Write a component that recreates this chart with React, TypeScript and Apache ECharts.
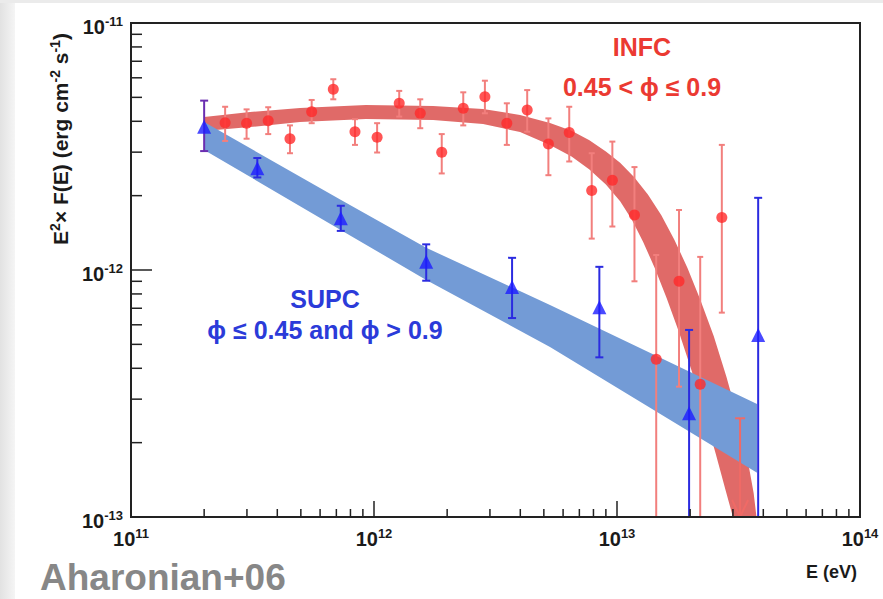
import React, { useEffect, useRef } from "react";
import * as echarts from "echarts";

const FONT = "Liberation Sans, Arial, Helvetica, sans-serif";

// Axis ranges
const X_MIN = 1e11;
const X_MAX = 1e14;
const Y_MIN = 1e-13;
const Y_MAX = 1e-11;

// INFC (red) flux points with error bars
const infcE = [2.44e11, 2.99e11, 3.67e11, 4.51e11, 5.54e11, 6.8e11, 8.35e11, 1.03e12, 1.27e12, 1.55e12, 1.9e12, 2.33e12, 2.86e12, 3.52e12, 4.27e12, 5.22e12, 6.36e12, 7.87e12, 9.57e12, 1.18e13, 1.45e13, 1.8e13, 2.2e13, 2.7e13];
const infcF = [3.95e-12, 3.93e-12, 4.02e-12, 3.4e-12, 4.37e-12, 5.39e-12, 3.63e-12, 3.45e-12, 4.73e-12, 4.31e-12, 3.0e-12, 4.52e-12, 5.03e-12, 3.93e-12, 4.44e-12, 3.24e-12, 3.6e-12, 2.1e-12, 2.31e-12, 1.67e-12, 0.435e-12, 0.9e-12, 0.345e-12, 1.63e-12];
const infcHi = [4.58e-12, 4.47e-12, 4.56e-12, 3.85e-12, 4.88e-12, 5.92e-12, 4.08e-12, 3.93e-12, 5.31e-12, 4.91e-12, 3.55e-12, 5.24e-12, 5.84e-12, 4.73e-12, 5.35e-12, 4.11e-12, 4.58e-12, 2.97e-12, 3.31e-12, 2.61e-12, 1.15e-12, 1.75e-12, 1.13e-12, 3.21e-12];
const infcLo = [3.33e-12, 3.4e-12, 3.55e-12, 2.97e-12, 3.93e-12, 4.91e-12, 3.21e-12, 2.99e-12, 4.18e-12, 3.75e-12, 2.46e-12, 3.85e-12, 4.31e-12, 3.21e-12, 3.63e-12, 2.42e-12, 2.75e-12, 1.34e-12, 1.5e-12, 0.9e-12, 0.05e-12, 0.337e-12, 0.05e-12, 0.672e-12];
// INFC upper limit
const infcLimitE = [3.21e13];
const infcLimitF = [0.251e-12];

// SUPC (blue) flux points with error bars
const supcE = [2.0e11, 3.31e11, 7.3e11, 1.64e12, 3.7e12, 8.46e12, 1.98e13, 3.81e13];
const supcF = [3.8e-12, 2.58e-12, 1.62e-12, 1.08e-12, 0.854e-12, 0.706e-12, 0.263e-12, 0.546e-12];
const supcHi = [4.85e-12, 2.84e-12, 1.82e-12, 1.27e-12, 1.12e-12, 1.03e-12, 0.572e-12, 1.96e-12];
const supcLo = [3.03e-12, 2.37e-12, 1.44e-12, 0.905e-12, 0.639e-12, 0.443e-12, 0.05e-12, 0.05e-12];

// INFC fit band edges
const infcBandUpperE = [2.0e11, 3.09e11, 4.96e11, 9.27e11, 1.75e12, 2.81e12, 3.99e12, 5.3e12, 6.5e12, 7.7e12, 9.0e12, 1.03e13, 1.175e13, 1.34e13, 1.52e13, 1.72e13, 1.95e13, 2.2e13, 2.5e13, 2.82e13, 3.15e13, 3.45e13, 3.65e13, 3.75e13];
const infcBandUpperF = [4.16e-12, 4.36e-12, 4.53e-12, 4.66e-12, 4.61e-12, 4.49e-12, 4.24e-12, 3.94e-12, 3.66e-12, 3.35e-12, 3.02e-12, 2.72e-12, 2.38e-12, 2.02e-12, 1.67e-12, 1.33e-12, 1.02e-12, 0.76e-12, 0.54e-12, 0.37e-12, 0.25e-12, 0.17e-12, 0.125e-12, 0.1e-12];
const infcBandLowerE = [2.0e11, 3.09e11, 4.96e11, 9.27e11, 1.75e12, 2.81e12, 3.99e12, 5.3e12, 6.5e12, 7.7e12, 9.0e12, 1.03e13, 1.15e13, 1.28e13, 1.43e13, 1.6e13, 1.8e13, 2.03e13, 2.28e13, 2.55e13, 2.8e13, 3.0e13];
const infcBandLowerF = [3.65e-12, 3.79e-12, 3.97e-12, 4.09e-12, 4.05e-12, 3.9e-12, 3.62e-12, 3.21e-12, 2.88e-12, 2.55e-12, 2.22e-12, 1.9e-12, 1.6e-12, 1.3e-12, 1.02e-12, 0.77e-12, 0.56e-12, 0.39e-12, 0.265e-12, 0.18e-12, 0.128e-12, 0.1e-12];

// SUPC fit band edges
const supcBandE = [2.0e11, 7.32e11, 1.64e12, 5.3e12, 3.77e13];
const supcBandUpperF = [3.97e-12, 1.92e-12, 1.23e-12, 0.722e-12, 0.287e-12];
const supcBandLowerF = [3.06e-12, 1.45e-12, 0.911e-12, 0.488e-12, 0.151e-12];

// Minor tick positions
const xMinorTicks = [2e11, 3e11, 4e11, 5e11, 6e11, 7e11, 8e11, 9e11, 2e12, 3e12, 4e12, 5e12, 6e12, 7e12, 8e12, 9e12, 2e13, 3e13, 4e13, 5e13, 6e13, 7e13, 8e13, 9e13];
const yMinorTicks = [2e-13, 3e-13, 4e-13, 5e-13, 6e-13, 7e-13, 8e-13, 9e-13, 2e-12, 3e-12, 4e-12, 5e-12, 6e-12, 7e-12, 8e-12, 9e-12];

const labelRich = {
  b: { fontSize: 20, fontWeight: "bold", fontFamily: FONT, color: "#1a1a1a", lineHeight: 24 },
  s: { fontSize: 13, fontWeight: "bold", fontFamily: FONT, color: "#1a1a1a", lineHeight: 14, verticalAlign: "top" },
};

const expFormatter = (v: number) => `{b|10}{s|${Math.round(Math.log10(v))}}`;

function errorBarSeries(E: number[], lo: number[], hi: number[], color: string, capHalf: number, z: number, firstColor?: string) {
  return {
    type: "custom",
    silent: true,
    z,
    data: E.map((e, i) => [e, lo[i], hi[i]]),
    encode: { x: 0, y: [1, 2] },
    renderItem: (params: any, api: any) => {
      const e = api.value(0);
      const l = api.value(1);
      const h = api.value(2);
      const c = params.dataIndex === 0 && firstColor ? firstColor : color;
      const pTop = api.coord([e, Math.min(h, Y_MAX)]);
      const pBot = api.coord([e, Math.max(l, Y_MIN)]);
      const st = { stroke: c, lineWidth: 2 };
      const children: any[] = [
        { type: "line", shape: { x1: pTop[0], y1: pTop[1], x2: pBot[0], y2: pBot[1] }, style: st },
        { type: "line", shape: { x1: pTop[0] - capHalf, y1: pTop[1], x2: pTop[0] + capHalf, y2: pTop[1] }, style: st },
      ];
      if (l >= Y_MIN) {
        children.push({ type: "line", shape: { x1: pBot[0] - capHalf, y1: pBot[1], x2: pBot[0] + capHalf, y2: pBot[1] }, style: st });
      }
      return { type: "group", children };
    },
  };
}

function bandSeries(upE: number[], upF: number[], loE: number[], loF: number[], color: string, z: number) {
  return {
    type: "custom",
    silent: true,
    z,
    data: [[upE[0], upF[0]]],
    encode: { x: 0, y: 1 },
    renderItem: (params: any, api: any) => {
      const pts: number[][] = [];
      for (let i = 0; i < upE.length; i++) pts.push(api.coord([upE[i], upF[i]]));
      for (let i = loE.length - 1; i >= 0; i--) pts.push(api.coord([loE[i], loF[i]]));
      return { type: "polygon", shape: { points: pts }, style: { fill: color } };
    },
  };
}

const centered = { textAlign: "center", textVerticalAlign: "middle", align: "center", verticalAlign: "middle" };

function buildOption() {
  return {
    animation: false,
    backgroundColor: "#ffffff",
    textStyle: { fontFamily: FONT },
    grid: { left: 131, right: 23, top: 23, bottom: 82, show: true, borderColor: "#222", borderWidth: 2, backgroundColor: "rgba(0,0,0,0)" },
    xAxis: {
      type: "log",
      logBase: 10,
      min: X_MIN,
      max: X_MAX,
      z: 10,
      axisLine: { show: true, onZero: false, lineStyle: { color: "#222", width: 2 } },
      axisTick: { show: true, inside: true, length: 16, lineStyle: { color: "#222", width: 1.5 } },
      minorTick: { show: false },
      splitLine: { show: false },
      axisLabel: { show: true, margin: 10, fontSize: 20, fontWeight: "bold", color: "#1a1a1a", fontFamily: FONT, showMinLabel: true, showMaxLabel: true, formatter: expFormatter, rich: labelRich },
    },
    yAxis: {
      type: "log",
      logBase: 10,
      min: Y_MIN,
      max: Y_MAX,
      z: 10,
      axisLine: { show: true, onZero: false, lineStyle: { color: "#222", width: 2 } },
      axisTick: { show: true, inside: true, length: 21, lineStyle: { color: "#222", width: 1.5 } },
      minorTick: { show: false },
      splitLine: { show: false },
      axisLabel: { show: true, margin: 8, padding: [8, 0, 0, 0], fontSize: 20, fontWeight: "bold", color: "#1a1a1a", fontFamily: FONT, showMinLabel: true, showMaxLabel: true, formatter: expFormatter, rich: labelRich },
    },
    graphic: [
      {
        type: "rect",
        z: -10,
        shape: { x: 0, y: 0, width: 15, height: 599 },
        style: { fill: new echarts.graphic.LinearGradient(0, 0, 1, 0, [{ offset: 0, color: "#e2e2e2" }, { offset: 1, color: "#f5f5f5" }]) },
      },
      { type: "rect", z: -10, shape: { x: 0, y: 0, width: 883, height: 3 }, style: { fill: "#ebebeb" } },
      { type: "text", x: 642, y: 47, style: { text: "INFC", fill: "#eb3a32", font: `bold 25px ${FONT}`, ...centered } },
      { type: "text", x: 642, y: 87, style: { text: "0.45 < ϕ ≤ 0.9", fill: "#eb3a32", font: `bold 25px ${FONT}`, ...centered } },
      { type: "text", x: 325, y: 299, style: { text: "SUPC", fill: "#2b3bd9", font: `bold 25px ${FONT}`, ...centered } },
      { type: "text", x: 325, y: 330, style: { text: "ϕ ≤ 0.45 and ϕ > 0.9", fill: "#2b3bd9", font: `bold 25px ${FONT}`, ...centered } },
      {
        type: "text",
        x: 857,
        y: 572,
        style: { text: "E (eV)", fill: "#1a1a1a", font: `bold 18px ${FONT}`, textAlign: "right", textVerticalAlign: "middle", align: "right", verticalAlign: "middle" },
      },
      {
        type: "text",
        x: 40,
        y: 577,
        style: { text: "Aharonian+06", fill: "#878787", font: `bold 37px ${FONT}`, textAlign: "left", textVerticalAlign: "middle", align: "left", verticalAlign: "middle" },
      },
      {
        type: "text",
        x: 60,
        y: 139,
        rotation: Math.PI / 2,
        style: {
          text: "{n|E}{s|2}{n|× F(E) (erg cm}{s|-2}{n| s}{s|-1}{n|)}",
          font: `bold 21px ${FONT}`,
          fill: "#1a1a1a",
          ...centered,
          rich: {
            n: { font: `bold 21px ${FONT}`, fontSize: 21, fontWeight: "bold", fontFamily: FONT, fill: "#1a1a1a", lineHeight: 24 },
            s: { font: `bold 14px ${FONT}`, fontSize: 14, fontWeight: "bold", fontFamily: FONT, fill: "#1a1a1a", lineHeight: 14, verticalAlign: "top" },
          },
        },
      },
    ],
    series: [
      bandSeries(infcBandUpperE, infcBandUpperF, infcBandLowerE, infcBandLowerF, "#e06a68", 1),
      bandSeries(supcBandE, supcBandUpperF, supcBandE, supcBandLowerF, "#739bd6", 2),
      errorBarSeries(infcE, infcLo, infcHi, "#f27f7d", 3, 3),
      {
        type: "custom",
        silent: true,
        z: 3,
        data: infcLimitE.map((e, i) => [e, infcLimitF[i]]),
        encode: { x: 0, y: 1 },
        renderItem: (params: any, api: any) => {
          const p = api.coord([api.value(0), api.value(1)]);
          const b = api.coord([api.value(0), Y_MIN]);
          const st = { stroke: "#f06a66", lineWidth: 2 };
          return {
            type: "group",
            children: [
              { type: "line", shape: { x1: p[0], y1: p[1], x2: b[0], y2: b[1] }, style: st },
              { type: "line", shape: { x1: p[0] - 5, y1: p[1], x2: p[0] + 5, y2: p[1] }, style: st },
              { type: "line", shape: { x1: b[0] - 8, y1: b[1] - 17, x2: b[0], y2: b[1] }, style: st },
              { type: "line", shape: { x1: b[0] + 8, y1: b[1] - 17, x2: b[0], y2: b[1] }, style: st },
            ],
          };
        },
      },
      errorBarSeries(supcE, supcLo, supcHi, "#2b2be0", 4, 4, "#6a2db0"),
      {
        type: "scatter",
        silent: true,
        z: 5,
        symbol: "circle",
        symbolSize: 11,
        itemStyle: { color: "#ff2b2b" },
        data: infcE.map((e, i) => [e, infcF[i]]),
      },
      {
        type: "scatter",
        silent: true,
        z: 6,
        symbol: "triangle",
        symbolSize: 14,
        itemStyle: { color: "#1d1dff" },
        data: supcE.map((e, i) => [e, supcF[i]]),
      },
      {
        type: "custom",
        silent: true,
        z: 7,
        data: xMinorTicks.map((v) => [v, Y_MIN]),
        encode: { x: 0, y: 1 },
        renderItem: (params: any, api: any) => {
          const p = api.coord([api.value(0), Y_MIN]);
          return { type: "line", shape: { x1: p[0], y1: p[1], x2: p[0], y2: p[1] - 8 }, style: { stroke: "#222", lineWidth: 1.5 } };
        },
      },
      {
        type: "custom",
        silent: true,
        z: 7,
        data: yMinorTicks.map((v) => [X_MIN, v]),
        encode: { x: 0, y: 1 },
        renderItem: (params: any, api: any) => {
          const p = api.coord([X_MIN, api.value(1)]);
          return { type: "line", shape: { x1: p[0], y1: p[1], x2: p[0] + 11, y2: p[1] }, style: { stroke: "#222", lineWidth: 1.5 } };
        },
      },
    ],
  };
}

export default function App() {
  const ref = useRef<HTMLDivElement>(null);
  useEffect(() => {
    const chart = echarts.init(ref.current as HTMLDivElement, null, { renderer: "svg" });
    chart.setOption(buildOption() as any);
    return () => chart.dispose();
  }, []);
  return <div ref={ref} style={{ position: "absolute", left: 0, top: 0, width: 883, height: 599 }} />;
}
